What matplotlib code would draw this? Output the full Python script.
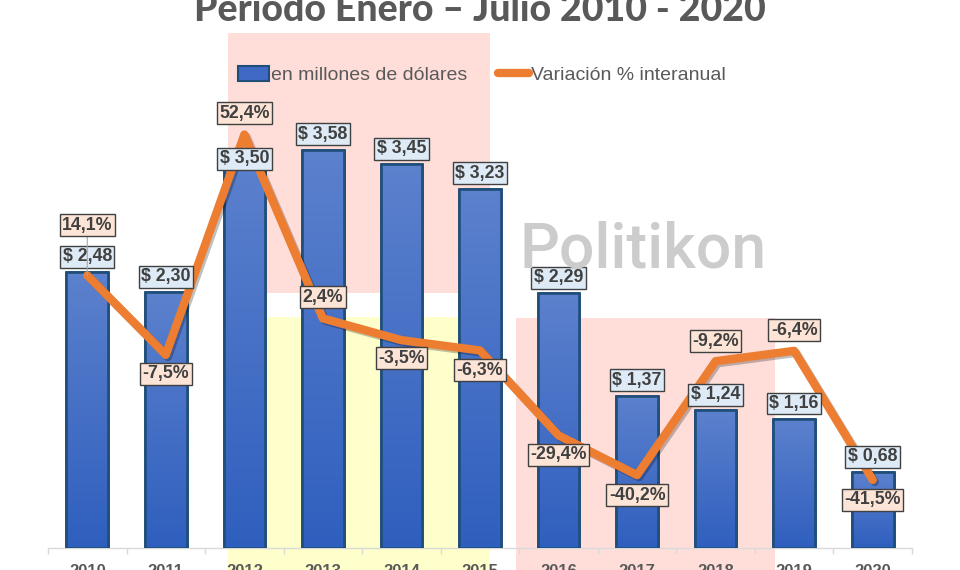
import numpy as np
import matplotlib
matplotlib.use("Agg")
import matplotlib.pyplot as plt
from matplotlib import font_manager
from matplotlib.patches import Rectangle
from matplotlib.lines import Line2D
import matplotlib.patheffects as pe

# data
years = ['2010', '2011', '2012', '2013', '2014', '2015', '2016', '2017', '2018', '2019', '2020']
montos = [2.48, 2.30, 3.50, 3.58, 3.45, 3.23, 2.29, 1.37, 1.24, 1.16, 0.68]
variacion = [14.1, -7.5, 52.4, 2.4, -3.5, -6.3, -29.4, -40.2, -9.2, -6.4, -41.5]
monto_labels = ['$ 2,48', '$ 2,30', '$ 3,50', '$ 3,58', '$ 3,45', '$ 3,23',
                '$ 2,29', '$ 1,37', '$ 1,24', '$ 1,16', '$ 0,68']
var_labels = ['14,1%', '-7,5%', '52,4%', '2,4%', '-3,5%', '-6,3%',
              '-29,4%', '-40,2%', '-9,2%', '-6,4%', '-41,5%']
# label offsets in pixels (up is positive)
monto_off = [15.5, 15.5, 0, 15.5, 15.5, 15.5, 15.5, 15.5, 15.5, 15.5, 15.5]
var_off = [50, -19, 21.5, 21, -18, -20, -19.5, -20, 20, 20.5, -20]


def pick(names):
    for n in names:
        try:
            font_manager.findfont(n, fallback_to_default=False)
            return n
        except Exception:
            pass
    return 'DejaVu Sans'

narrow = pick(['Liberation Sans Narrow', 'Liberation Sans'])
arial = pick(['Liberation Sans', 'DejaVu Sans'])
title_font = pick(['Lato', 'Inter', 'DejaVu Sans'])

W, H = 960, 570
fig = plt.figure(figsize=(W / 100, H / 100), dpi=100)
fig.patch.set_facecolor('white')

def fr(x0, y0, x1, y1, color):
    # rectangle in pixel coords (top-left origin)
    fig.patches.append(Rectangle((x0 / W, 1 - y1 / H), (x1 - x0) / W, (y1 - y0) / H,
                                 transform=fig.transFigure, facecolor=color,
                                 edgecolor='none', zorder=-10))

fr(228, 33, 490, 293, '#FFDEDA')
fr(228, 317, 490, 570, '#FFFFCC')
fr(516, 318, 775, 570, '#FFDEDA')

ax = fig.add_axes([48 / W, 22 / H, 864 / W, 515 / H])
ax.patch.set_alpha(0)
x = np.arange(len(years))

bars = ax.bar(x, montos, width=0.53, color='#4A72C6', edgecolor='#1F4E79',
              linewidth=1.9, zorder=3)

# gradient fill for the bars
grad = np.linspace(0, 1, 256).reshape(-1, 1)
cmap = matplotlib.colors.LinearSegmentedColormap.from_list('g', ['#2F5FBE', '#5C81CD'])
for b in bars:
    bx, by = b.get_x(), b.get_y()
    im = ax.imshow(grad, extent=(bx, bx + b.get_width(), by, by + b.get_height()),
                   origin='lower', cmap=cmap, aspect='auto', zorder=3.1)
    im.set_clip_path(b)
    edge = Rectangle((bx, by), b.get_width(), b.get_height(), facecolor='none',
                     edgecolor='#1F4E79', linewidth=1.9, zorder=3.2, joinstyle='round')
    ax.add_patch(edge)
ax.set_xlim(-0.5, len(years) - 0.5)
ax.set_ylim(0, 515 / 111.2)

for s in ['top', 'left', 'right']:
    ax.spines[s].set_visible(False)
ax.spines['bottom'].set_color('#D9D9D9')
ax.spines['bottom'].set_linewidth(1)
ax.set_yticks([])
ax.set_xticks(x)
ax.set_xticklabels(years, fontsize=12, fontweight='bold', color='#595959', family=arial)
ax.tick_params(axis='x', which='major', length=0, pad=11.5)
ax.set_xticks(np.arange(-0.5, len(years)), minor=True)
ax.tick_params(axis='x', which='minor', length=4.5, color='#D9D9D9', width=1)

ax2 = ax.twinx()
ax2.set_ylim(-60, 80)
ax2.set_yticks([])
for s in ax2.spines.values():
    s.set_visible(False)
ax2.plot(x, variacion, color='#ED7D31', linewidth=6, solid_joinstyle='round',
         solid_capstyle='round', zorder=4,
         path_effects=[pe.SimpleLineShadow(offset=(1.5, -1.5), alpha=0.25), pe.Normal()])

box_b = dict(boxstyle='square,pad=0.14', facecolor='#DEEBF7', edgecolor='#404040', linewidth=1)
box_p = dict(boxstyle='square,pad=0.14', facecolor='#FCE4D6', edgecolor='#404040', linewidth=1)

for i in range(len(years)):
    ax2.annotate(monto_labels[i], xy=(x[i], montos[i]), xycoords=ax.transData,
                 xytext=(0, monto_off[i] * 0.72), textcoords='offset points',
                 ha='center', va='center', fontsize=12.8, fontweight='bold',
                 color='#404040', family=arial, bbox=box_b, zorder=6)
for i in range(len(years)):
    arrow = None
    if i == 0:
        arrow = dict(arrowstyle='-', color='#A6A6A6', lw=0.8, shrinkA=0, shrinkB=0)
    ax2.annotate(var_labels[i], xy=(x[i], variacion[i]),
                 xytext=(0, var_off[i] * 0.72), textcoords='offset points',
                 ha='center', va='center', fontsize=12.8, fontweight='bold',
                 color='#404040', family=arial, bbox=box_p, arrowprops=arrow, zorder=7)

# watermark
fig.text(520 / W, 1 - 267 / H, 'Politikon', fontsize=45, color='#CCCCCC',
         family=pick(['Roboto', 'Open Sans']), fontweight='medium',
         ha='left', va='baseline', zorder=5)

# title
fig.text(0.5, 1 - 21 / H, 'Período Enero – Julio 2010 - 2020', fontsize=27,
         fontweight='black', color='#595959', family=title_font, ha='center', va='baseline')

# legend
h1 = Rectangle((0, 0), 1, 1, facecolor='#3F69C4', edgecolor='#1F4E79', linewidth=1.5)
h2 = Line2D([0], [0], color='#ED7D31', linewidth=6, solid_capstyle='round')
fig.legend([h1, h2], ['en millones de dólares', 'Variación % interanual'],
           loc='center', bbox_to_anchor=(482 / W, 1 - 75 / H), ncol=2, frameon=False,
           prop={'family': narrow, 'size': 14}, labelcolor='#595959',
           handlelength=1.6, handleheight=0.8, handletextpad=0.1, columnspacing=1.6)

fig.savefig('out.png', dpi=100)
